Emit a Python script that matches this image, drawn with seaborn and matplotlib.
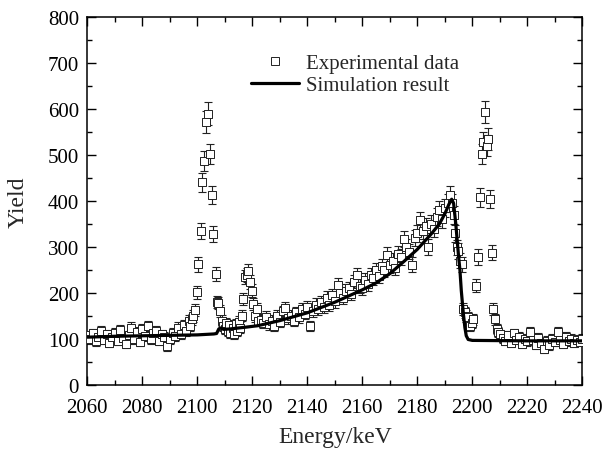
import numpy as np
import matplotlib
matplotlib.use('Agg')
import matplotlib.pyplot as plt
from matplotlib.ticker import MultipleLocator
from matplotlib.lines import Line2D
import seaborn as sns

# experimental spectrum (energy in keV, counts)
exp_energy = [
    2060, 2061, 2062, 2063, 2064, 2065, 2066, 2067, 2068, 2069,
    2070, 2071, 2072, 2073, 2074, 2075, 2076, 2077, 2078, 2079,
    2080, 2081, 2082, 2083, 2084, 2085, 2086, 2087, 2088, 2089,
    2090, 2091, 2092, 2093, 2094, 2095, 2096, 2097, 2097.5, 2098,
    2098.5, 2099.2, 2099.8, 2100.3, 2101.2, 2101.7, 2102.4, 2103.2, 2103.7, 2104.6,
    2105.2, 2105.7, 2106.8, 2107.2, 2107.6, 2108.3, 2109, 2109.5, 2110, 2110.5,
    2111, 2111.5, 2112, 2113, 2113.5, 2114, 2114.5, 2115, 2115.5, 2116.1,
    2116.7, 2117.3, 2118, 2118.5, 2119.2, 2119.8, 2120.4, 2121, 2121.6, 2122,
    2123, 2124, 2125, 2126, 2127, 2128, 2129, 2130, 2131, 2132,
    2133, 2134, 2135, 2136, 2137, 2138, 2139, 2140, 2141, 2142,
    2143, 2144, 2145, 2146, 2147, 2148, 2149, 2150, 2151, 2152,
    2153, 2154, 2155, 2156, 2157, 2158, 2159, 2160, 2161, 2162,
    2163, 2164, 2165, 2166, 2167, 2168, 2169, 2170, 2171, 2172,
    2173, 2174, 2175, 2176, 2177, 2178, 2179, 2180, 2181, 2182,
    2183, 2184, 2185, 2186, 2187, 2188, 2189, 2190, 2191, 2191.9,
    2192.5, 2193.2, 2193.8, 2194.3, 2194.9, 2195.5, 2196.1, 2196.7, 2197.2, 2197.8,
    2198.5, 2199.2, 2199.8, 2200.4, 2201.3, 2202.2, 2202.8, 2203.4, 2204.0, 2204.6,
    2205.2, 2205.8, 2206.4, 2207.1, 2207.6, 2208.3, 2208.9, 2209.5, 2210, 2211,
    2212, 2213, 2214, 2215, 2216, 2217, 2218, 2219, 2220, 2221,
    2222, 2223, 2224, 2225, 2226, 2227, 2228, 2229, 2230, 2231,
    2232, 2233, 2234, 2235, 2236, 2237, 2238, 2239, 2240,
]
exp_yield = [
    108, 100, 112, 95, 105, 118, 98, 110, 92, 104,
    113, 96, 120, 102, 90, 108, 125, 100, 115, 94,
    122, 107, 128, 99, 112, 118, 96, 110, 104, 84,
    100, 113, 106, 125, 110, 130, 118, 140, 128, 143,
    150, 163, 202, 263, 335, 441, 487, 572, 590, 502,
    413, 328, 241, 180, 178, 161, 140, 128, 122, 135,
    118, 130, 112, 125, 110, 132, 118, 138, 125, 151,
    187, 234, 240, 248, 224, 205, 176, 150, 165, 140,
    142, 135, 148, 132, 140, 128, 150, 138, 160, 168,
    145, 150, 140, 158, 148, 165, 155, 170, 128, 160,
    175, 165, 180, 170, 190, 175, 195, 182, 218, 200,
    190, 205, 210, 198, 225, 240, 215, 210, 228, 220,
    240, 232, 250, 238, 258, 250, 283, 260, 270, 255,
    285, 278, 317, 300, 290, 262, 320, 330, 358, 335,
    345, 300, 350, 340, 365, 381, 360, 385, 395, 413,
    395, 370, 330, 299, 292, 270, 263, 165, 158, 150,
    147, 129, 135, 143, 216, 278, 408, 502, 528, 593,
    520, 535, 404, 288, 165, 143, 122, 115, 110, 102,
    96, 108, 92, 112, 98, 104, 90, 100, 95, 116,
    98, 88, 102, 92, 78, 96, 86, 100, 94, 116,
    98, 90, 104, 95, 100, 92, 98, 94, 100,
]

# simulated spectrum
sim_energy = [
    2060, 2070, 2080, 2090, 2100, 2106, 2107, 2107.8, 2108.5, 2109.5,
    2112, 2118, 2122, 2130, 2140, 2150, 2160, 2165, 2170, 2175,
    2180, 2185, 2188, 2190, 2191.5, 2192.5, 2193.2, 2194, 2195, 2195.5,
    2196, 2196.7, 2197.3, 2197.8, 2198.5, 2200, 2220, 2240,
]
sim_yield = [
    104, 106, 107, 108, 109, 111, 112, 122, 124, 121,
    122, 126, 129, 140, 157, 180, 207, 222, 242, 268,
    295, 328, 350, 372, 393, 404, 395, 350, 280, 250,
    205, 158, 125, 107, 99, 97, 96, 96,
]

# counting statistics
exp_err = np.sqrt(np.array(exp_yield, dtype=float))

sns.set_theme(style='ticks')
plt.rcParams['font.family'] = ['Liberation Serif', 'DejaVu Serif']
plt.rcParams['mathtext.fontset'] = 'stix'

fig, ax = plt.subplots(figsize=(6.11, 4.52), dpi=100)
fig.subplots_adjust(left=0.143, right=0.953, bottom=0.146, top=0.960)

ax.errorbar(exp_energy, exp_yield, yerr=exp_err, fmt='none',
            ecolor='#222222', elinewidth=0.8, capsize=3, capthick=0.8, zorder=2)
sns.scatterplot(x=exp_energy, y=exp_yield, marker='s', s=34,
                facecolor='white', edgecolor='#222222', linewidth=0.7,
                ax=ax, zorder=3)
sns.lineplot(x=sim_energy, y=sim_yield, color='black', linewidth=2.3,
             ax=ax, zorder=4, sort=False)

ax.set_xlim(2060, 2240)
ax.set_ylim(0, 800)
ax.xaxis.set_major_locator(MultipleLocator(20))
ax.xaxis.set_minor_locator(MultipleLocator(10))
ax.yaxis.set_major_locator(MultipleLocator(100))
ax.yaxis.set_minor_locator(MultipleLocator(50))
ax.tick_params(which='both', direction='in', top=True, right=True,
               width=1.0, colors='black', labelsize=15)
ax.tick_params(axis='x', pad=9)
ax.tick_params(axis='y', pad=6)
ax.tick_params(which='major', length=6.5)
ax.tick_params(which='minor', length=3.6)
for sp in ax.spines.values():
    sp.set_linewidth(1.1)
    sp.set_color('black')

ax.set_xlabel('Energy/keV', fontsize=17, labelpad=7)
ax.set_ylabel('Yield', fontsize=17, labelpad=14)

handles = [
    Line2D([], [], marker='s', linestyle='none', markersize=6,
           markerfacecolor='white', markeredgecolor='#222222', markeredgewidth=0.7),
    Line2D([], [], color='black', linewidth=2.3),
]
ax.legend(handles, ['Experimental data', 'Simulation result'],
          loc='upper left', bbox_to_anchor=(0.33, 0.90), frameon=False,
          fontsize=15, handlelength=2.3, handletextpad=0.35,
          labelspacing=0.1, borderpad=0, borderaxespad=0)

fig.savefig('out.png', dpi=100)
